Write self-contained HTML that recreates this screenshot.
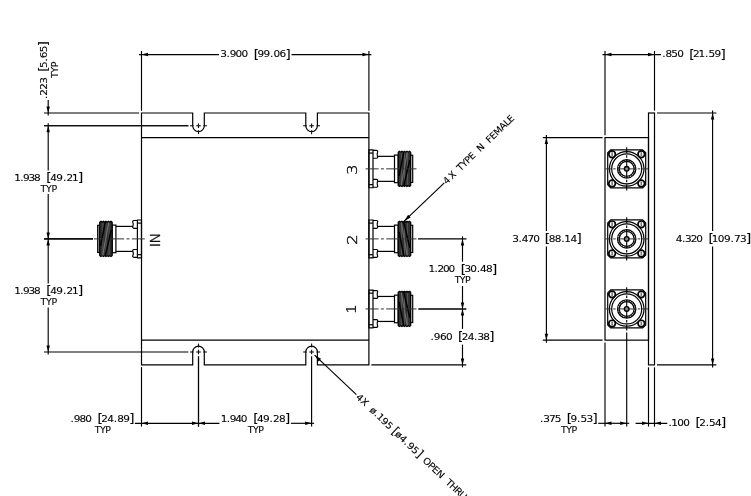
<!DOCTYPE html>
<html lang="en">
<head>
<meta charset="utf-8">
<title>Outline drawing</title>
<style>
html,body{margin:0;padding:0;background:#fff;}
body{width:751px;height:496px;overflow:hidden;}
svg{display:block;will-change:transform;}
.l{fill:none;stroke:#000;stroke-width:1.2;}
.lg{fill:#b0b0b0;stroke:#000;stroke-width:1.2;}
.d{fill:none;stroke:#000;stroke-width:1.15;}
.c{fill:none;stroke:#111;stroke-width:1.1;}
.cl{fill:none;stroke:#333;stroke-width:1;}
.a{fill:#000;stroke:none;}
.t{fill:#303030;stroke:#000;stroke-width:1.2;stroke-linejoin:round;}
.ts{stroke:#111;stroke-width:1.4;}
.th{fill:none;stroke:#707070;stroke-width:1.1;}
.th2{fill:none;stroke:#5a5a5a;stroke-width:0.9;}
.th3{fill:none;stroke:#000;stroke-width:1.5;}
.k2{fill:none;stroke:#555;stroke-width:1.6;stroke-dasharray:1.2 1.2;}
.hs{stroke:#777;stroke-width:1.6;}
.k{fill:none;stroke:#1a1a1a;stroke-width:2;}
.p{fill:#8a8a8a;stroke:#000;stroke-width:1.4;}
.h{fill:#fff;stroke:#000;stroke-width:1.7;}
.cv{fill:none;stroke:#000;stroke-width:1.1;}
text{font-family:"DejaVu Sans","Liberation Sans",sans-serif;font-size:9.4px;fill:#000;stroke:#000;stroke-width:0.1px;}
tspan.br{font-size:12.0px;}
text.big{font-family:"DejaVu Sans Light","DejaVu Sans",sans-serif;font-weight:200;font-size:14.6px;stroke-width:0.35px;}
text.big1{font-family:"Liberation Sans",sans-serif;font-size:15.2px;stroke:none;fill:#222;}
</style>
</head>
<body>
<svg width="751" height="496" viewBox="0 0 751 496">
<rect x="0" y="0" width="751" height="496" fill="#ffffff"/>
<!-- top view: body -->
<path class="l" d="M141.5,113.0 H192.7 V125.75 A5.8,5.8 0 0 0 204.3,125.75 V113.0 H305.8 V125.75 A5.8,5.8 0 0 0 317.4,125.75 V113.0 H368.9 V364.9 H317.4 V352.0 A5.8,5.8 0 0 0 305.8,352.0 V364.9 H204.3 V352.0 A5.8,5.8 0 0 0 192.7,352.0 V364.9 H141.5 Z"/>
<line class="l" x1="141.5" y1="137.6" x2="368.9" y2="137.6"/>
<line class="l" x1="141.5" y1="340.15" x2="368.9" y2="340.15"/>
<line class="c" x1="196.2" y1="125.75" x2="200.8" y2="125.75"/>
<line class="c" x1="198.5" y1="123.45" x2="198.5" y2="128.05"/>
<line class="c" x1="190.1" y1="125.75" x2="193.7" y2="125.75"/>
<line class="c" x1="203.3" y1="125.75" x2="206.9" y2="125.75"/>
<line class="c" x1="198.5" y1="130.25" x2="198.5" y2="134.15"/>
<line class="c" x1="196.2" y1="352" x2="200.8" y2="352"/>
<line class="c" x1="198.5" y1="349.7" x2="198.5" y2="354.3"/>
<line class="c" x1="190.1" y1="352" x2="193.7" y2="352"/>
<line class="c" x1="203.3" y1="352" x2="206.9" y2="352"/>
<line class="c" x1="198.5" y1="347.5" x2="198.5" y2="343.6"/>
<line class="c" x1="309.3" y1="125.75" x2="313.9" y2="125.75"/>
<line class="c" x1="311.6" y1="123.45" x2="311.6" y2="128.05"/>
<line class="c" x1="303.2" y1="125.75" x2="306.8" y2="125.75"/>
<line class="c" x1="316.4" y1="125.75" x2="320" y2="125.75"/>
<line class="c" x1="311.6" y1="130.25" x2="311.6" y2="134.15"/>
<line class="c" x1="309.3" y1="352" x2="313.9" y2="352"/>
<line class="c" x1="311.6" y1="349.7" x2="311.6" y2="354.3"/>
<line class="c" x1="303.2" y1="352" x2="306.8" y2="352"/>
<line class="c" x1="316.4" y1="352" x2="320" y2="352"/>
<line class="c" x1="311.6" y1="347.5" x2="311.6" y2="343.6"/>
<!-- top view: connectors -->
<g>
<path class="l" d="M368.9,149.95 H373 V187.75 H368.9 Z"/>
<line class="l" x1="368.9" y1="153.05" x2="373" y2="153.05"/>
<line class="l" x1="368.9" y1="184.65" x2="373" y2="184.65"/>
<path class="l" d="M373,150.45 H376.5 Q378.1,150.45 377.5,152.4 Q376.7,154.35 377.5,156.3 Q378.1,158.25 376.5,158.25 H373"/>
<path class="l" d="M373,187.25 H376.5 Q378.1,187.25 377.5,185.3 Q376.7,183.35 377.5,181.4 Q378.1,179.45 376.5,179.45 H373"/>
<line class="l" x1="377.7" y1="156.35" x2="394.5" y2="156.35"/>
<line class="l" x1="377.7" y1="181.35" x2="394.5" y2="181.35"/>
<rect class="l" x="394.5" y="155.05" width="3.7" height="27.6"/>
<rect class="l" x="410.5" y="155.25" width="2.2" height="27.2"/>
<polygon class="t" points="398.2,152.15 399.45,151.15 400.7,152.15 401.95,151.15 403.2,152.15 404.45,151.15 405.7,152.15 406.95,151.15 408.2,152.15 409.45,151.15 410.7,152.15 410.7,185.55 409.45,186.55 408.2,185.55 406.95,186.55 405.7,185.55 404.45,186.55 403.2,185.55 401.95,186.55 400.7,185.55 399.45,186.55 398.2,185.55"/>
<path class="th2" d="M401.4,152.85 V184.85 M404.5,152.85 V184.85 M407.6,152.85 V184.85"/>
<path class="th" d="M401.2,185.35 L407.2,152.35"/>
<path class="th3" d="M399.1,175.85 L403.8,152.05 M403.8,185.65 L409.8,159.85"/>
<line class="cl" x1="365.6" y1="168.85" x2="416.5" y2="168.85" stroke-dasharray="13 2.3 3 2.3"/>
</g>
<g>
<path class="l" d="M368.9,220 H373 V257.8 H368.9 Z"/>
<line class="l" x1="368.9" y1="223.1" x2="373" y2="223.1"/>
<line class="l" x1="368.9" y1="254.7" x2="373" y2="254.7"/>
<path class="l" d="M373,220.5 H376.5 Q378.1,220.5 377.5,222.45 Q376.7,224.4 377.5,226.35 Q378.1,228.3 376.5,228.3 H373"/>
<path class="l" d="M373,257.3 H376.5 Q378.1,257.3 377.5,255.35 Q376.7,253.4 377.5,251.45 Q378.1,249.5 376.5,249.5 H373"/>
<line class="l" x1="377.7" y1="226.4" x2="394.5" y2="226.4"/>
<line class="l" x1="377.7" y1="251.4" x2="394.5" y2="251.4"/>
<rect class="l" x="394.5" y="225.1" width="3.7" height="27.6"/>
<rect class="l" x="410.5" y="225.3" width="2.2" height="27.2"/>
<polygon class="t" points="398.2,222.2 399.45,221.2 400.7,222.2 401.95,221.2 403.2,222.2 404.45,221.2 405.7,222.2 406.95,221.2 408.2,222.2 409.45,221.2 410.7,222.2 410.7,255.6 409.45,256.6 408.2,255.6 406.95,256.6 405.7,255.6 404.45,256.6 403.2,255.6 401.95,256.6 400.7,255.6 399.45,256.6 398.2,255.6"/>
<path class="th2" d="M401.4,222.9 V254.9 M404.5,222.9 V254.9 M407.6,222.9 V254.9"/>
<path class="th" d="M401.2,222.4 L407.2,255.4"/>
<path class="th3" d="M399.1,231.9 L403.8,255.7 M403.8,222.1 L409.8,247.9"/>
<line class="cl" x1="365.6" y1="238.9" x2="416.5" y2="238.9" stroke-dasharray="13 2.3 3 2.3"/>
</g>
<g>
<path class="l" d="M368.9,290.05 H373 V327.85 H368.9 Z"/>
<line class="l" x1="368.9" y1="293.15" x2="373" y2="293.15"/>
<line class="l" x1="368.9" y1="324.75" x2="373" y2="324.75"/>
<path class="l" d="M373,290.55 H376.5 Q378.1,290.55 377.5,292.5 Q376.7,294.45 377.5,296.4 Q378.1,298.35 376.5,298.35 H373"/>
<path class="l" d="M373,327.35 H376.5 Q378.1,327.35 377.5,325.4 Q376.7,323.45 377.5,321.5 Q378.1,319.55 376.5,319.55 H373"/>
<line class="l" x1="377.7" y1="296.45" x2="394.5" y2="296.45"/>
<line class="l" x1="377.7" y1="321.45" x2="394.5" y2="321.45"/>
<rect class="l" x="394.5" y="295.15" width="3.7" height="27.6"/>
<rect class="l" x="410.5" y="295.35" width="2.2" height="27.2"/>
<polygon class="t" points="398.2,292.25 399.45,291.25 400.7,292.25 401.95,291.25 403.2,292.25 404.45,291.25 405.7,292.25 406.95,291.25 408.2,292.25 409.45,291.25 410.7,292.25 410.7,325.65 409.45,326.65 408.2,325.65 406.95,326.65 405.7,325.65 404.45,326.65 403.2,325.65 401.95,326.65 400.7,325.65 399.45,326.65 398.2,325.65"/>
<path class="th2" d="M401.4,292.95 V324.95 M404.5,292.95 V324.95 M407.6,292.95 V324.95"/>
<path class="th" d="M401.2,292.45 L407.2,325.45"/>
<path class="th3" d="M399.1,301.95 L403.8,325.75 M403.8,292.15 L409.8,317.95"/>
<line class="cl" x1="365.6" y1="308.95" x2="416.5" y2="308.95" stroke-dasharray="13 2.3 3 2.3"/>
</g>
<g>
<path class="l" d="M141.5,220 H137.4 V257.8 H141.5 Z"/>
<line class="l" x1="141.5" y1="223.1" x2="137.4" y2="223.1"/>
<line class="l" x1="141.5" y1="254.7" x2="137.4" y2="254.7"/>
<path class="l" d="M137.4,220.5 H133.9 Q132.3,220.5 132.9,222.45 Q133.7,224.4 132.9,226.35 Q132.3,228.3 133.9,228.3 H137.4"/>
<path class="l" d="M137.4,257.3 H133.9 Q132.3,257.3 132.9,255.35 Q133.7,253.4 132.9,251.45 Q132.3,249.5 133.9,249.5 H137.4"/>
<line class="l" x1="132.7" y1="226.4" x2="115.9" y2="226.4"/>
<line class="l" x1="132.7" y1="251.4" x2="115.9" y2="251.4"/>
<rect class="l" x="112.2" y="225.1" width="3.7" height="27.6"/>
<rect class="lg" x="97.7" y="225.3" width="2.2" height="27.2"/>
<polygon class="t" points="99.7,222.2 100.95,221.2 102.2,222.2 103.45,221.2 104.7,222.2 105.95,221.2 107.2,222.2 108.45,221.2 109.7,222.2 110.95,221.2 112.2,222.2 112.2,255.6 110.95,256.6 109.7,255.6 108.45,256.6 107.2,255.6 105.95,256.6 104.7,255.6 103.45,256.6 102.2,255.6 100.95,256.6 99.7,255.6"/>
<path class="th2" d="M102.9,222.9 V254.9 M106,222.9 V254.9 M109.1,222.9 V254.9"/>
<path class="th" d="M102.7,255.4 L108.7,222.4"/>
<path class="th3" d="M100.6,245.9 L105.3,222.1 M105.3,255.7 L111.3,229.9"/>
<line class="cl" x1="144.8" y1="238.9" x2="93.9" y2="238.9" stroke-dasharray="13 2.3 3 2.3"/>
</g>
<!-- port labels -->
<g transform="translate(356.5 173.8) rotate(-90)">
<text transform="translate(0 0) scale(1.15 1)" x="-1.09" y="0" class="big">3</text>
</g>
<g transform="translate(356.6 243.8) rotate(-90)">
<text transform="translate(0 0) scale(1.15 1)" x="-1.09" y="0" class="big">2</text>
</g>
<g transform="translate(356.2 311.8) rotate(-90)">
<text x="-1.61" y="0" class="big1">1</text>
</g>
<g transform="translate(159.9 245.9) rotate(-90)">
<text x="-1.46 2.31" y="0" class="big">IN</text>
</g>
<!-- dimensions: top view -->
<line class="d" x1="141.5" y1="50.9" x2="141.5" y2="110.8"/>
<line class="d" x1="368.9" y1="50.9" x2="368.9" y2="110.8"/>
<line class="d" x1="139" y1="54.55" x2="219" y2="54.55"/>
<line class="d" x1="291.5" y1="54.55" x2="371.4" y2="54.55"/>
<polygon class="a" points="141.5,54.55 148,52.85 148,56.25"/>
<polygon class="a" points="368.9,54.55 362.4,56.25 362.4,52.85"/>
<text transform="translate(221.1 57.2) scale(1.12 1)" x="-0.71 4.94 7.78 12.95 18.12 26.66 29.16 32.54 37.89 43.71 46.72 52.06 57.41" y="0">3.900 <tspan class="br" dy="0.3">[</tspan><tspan dy="-0.3">99.06</tspan><tspan class="br" dy="0.3">]</tspan></text>
<line class="d" x1="44" y1="113" x2="139.1" y2="113"/>
<line class="d" x1="44" y1="125.75" x2="188.4" y2="125.75"/>
<line class="d" x1="44" y1="125.75" x2="188.4" y2="125.75"/>
<line class="d" x1="44" y1="352" x2="188.4" y2="352"/>
<line class="d" x1="44" y1="238.9" x2="93" y2="238.9"/>
<line class="d" x1="44" y1="238.9" x2="93" y2="238.9"/>
<line class="d" x1="48.2" y1="100" x2="48.2" y2="115.5"/>
<polygon class="a" points="48.2,113 46.5,106.5 49.9,106.5"/>
<polygon class="a" points="48.2,125.75 49.9,132.25 46.5,132.25"/>
<line class="d" x1="48.2" y1="123.25" x2="48.2" y2="170.5"/>
<line class="d" x1="48.2" y1="194" x2="48.2" y2="283.5"/>
<polygon class="a" points="48.2,238.9 46.5,232.4 49.9,232.4"/>
<polygon class="a" points="48.2,238.9 49.9,245.4 46.5,245.4"/>
<line class="d" x1="48.2" y1="307.5" x2="48.2" y2="354.5"/>
<polygon class="a" points="48.2,352 46.5,345.5 49.9,345.5"/>
<text transform="translate(15.5 180.8) scale(1.12 1)" x="-1.03 4.29 6.81 11.66 16.52 25.05 27.55 31.03 36.47 42.38 45.48 50.45 55.89" y="0">1.938 <tspan class="br" dy="0.3">[</tspan><tspan dy="-0.3">49.21</tspan><tspan class="br" dy="0.3">]</tspan></text>
<text x="40.45 45.94 51.44" y="192">TYP</text>
<text transform="translate(15.5 293.8) scale(1.12 1)" x="-1.03 4.29 6.81 11.66 16.52 25.05 27.55 31.03 36.47 42.38 45.48 50.45 55.89" y="0">1.938 <tspan class="br" dy="0.3">[</tspan><tspan dy="-0.3">49.21</tspan><tspan class="br" dy="0.3">]</tspan></text>
<text x="40.45 45.94 51.44" y="304.9">TYP</text>
<g transform="translate(46.6 98) rotate(-90)">
<text transform="translate(0 0) scale(1.12 1)" x="-0.99 2.06 7.44 12.82 21.03 23.53 26.86 32.62 35.58 40.87 46.16" y="0">.223 <tspan class="br" dy="0.3">[</tspan><tspan dy="-0.3">5.65</tspan><tspan class="br" dy="0.3">]</tspan></text>
<text x="19.95 25.39 30.84" y="11">TYP</text>
</g>
<line class="d" x1="141.5" y1="367.1" x2="141.5" y2="426.6"/>
<line class="d" x1="198.5" y1="356.3" x2="198.5" y2="426.6"/>
<line class="d" x1="198.5" y1="356.3" x2="198.5" y2="426.6"/>
<line class="d" x1="311.6" y1="356.3" x2="311.6" y2="426.6"/>
<line class="d" x1="134.9" y1="423.3" x2="219.4" y2="423.3"/>
<polygon class="a" points="141.5,423.3 148,421.6 148,425"/>
<polygon class="a" points="198.5,423.3 192,425 192,421.6"/>
<line class="d" x1="290.9" y1="423.3" x2="314.1" y2="423.3"/>
<polygon class="a" points="198.5,423.3 205,421.6 205,425"/>
<polygon class="a" points="311.6,423.3 305.1,425 305.1,421.6"/>
<text transform="translate(71.7 421.6) scale(1.12 1)" x="-0.99 1.8 6.93 12.05 20.5 23 26.4 31.76 37.59 40.62 45.98 51.34" y="0">.980 <tspan class="br" dy="0.3">[</tspan><tspan dy="-0.3">24.89</tspan><tspan class="br" dy="0.3">]</tspan></text>
<text x="94.85 100.09 105.34" y="432.6">TYP</text>
<text transform="translate(222 421.6) scale(1.12 1)" x="-1.03 4.33 6.9 11.8 16.7 25.32 27.82 31.25 36.64 42.5 45.56 50.95 56.34" y="0">1.940 <tspan class="br" dy="0.3">[</tspan><tspan dy="-0.3">49.28</tspan><tspan class="br" dy="0.3">]</tspan></text>
<text x="247.75 252.99 258.24" y="432.6">TYP</text>
<line class="d" x1="418" y1="238.9" x2="466.5" y2="238.9"/>
<line class="d" x1="418.4" y1="308.95" x2="466.3" y2="308.95"/>
<line class="d" x1="418.4" y1="308.95" x2="466.3" y2="308.95"/>
<line class="d" x1="371.3" y1="364.9" x2="466.3" y2="364.9"/>
<line class="d" x1="462.5" y1="236.4" x2="462.5" y2="261.7"/>
<line class="d" x1="462.5" y1="286" x2="462.5" y2="328.9"/>
<line class="d" x1="462.5" y1="344.6" x2="462.5" y2="367.4"/>
<polygon class="a" points="462.5,238.9 464.2,245.4 460.8,245.4"/>
<polygon class="a" points="462.5,308.95 460.8,302.45 464.2,302.45"/>
<polygon class="a" points="462.5,308.95 464.2,315.45 460.8,315.45"/>
<polygon class="a" points="462.5,364.9 460.8,358.4 464.2,358.4"/>
<text transform="translate(429.6 272.4) scale(1.12 1)" x="-1.03 4.38 6.99 11.93 16.87 25.32 27.82 31.13 36.4 42.14 45.08 50.35 55.63" y="0">1.200 <tspan class="br" dy="0.3">[</tspan><tspan dy="-0.3">30.48</tspan><tspan class="br" dy="0.3">]</tspan></text>
<text x="454.65 459.84 465.04" y="283.3">TYP</text>
<text transform="translate(431.5 339.8) scale(1.12 1)" x="-0.99 2.13 7.58 13.03 21.12 23.62 26.96 32.26 38.04 41 46.31 51.61" y="0">.960 <tspan class="br" dy="0.3">[</tspan><tspan dy="-0.3">24.38</tspan><tspan class="br" dy="0.3">]</tspan></text>
<!-- leaders and notes -->
<line class="d" x1="404.2" y1="221.1" x2="444.3" y2="182.9"/>
<polygon class="a" points="404.2,221.1 408.17,214.83 410.65,217.44"/>
<g transform="translate(447.21 184.33) rotate(-44)">
<text x="-0.47 6.89 16.15 18.65 23.97 29.29 34.54 43.56 46.06 56.36 58.86 63.96 69.59 77.39 83.51 88.44" y="0">4X TYPE N FEMALE</text>
</g>
<line class="d" x1="314.6" y1="355.2" x2="356.4" y2="394.6"/>
<polygon class="a" points="314.6,355.2 321.07,358.83 318.6,361.45"/>
<g transform="translate(355.67 397.98) rotate(43.6)">
<text transform="translate(0 0) scale(1.06 1)" x="-0.47 5.59 14.91 17.41 23.4 26.35 32.1 37.85 43.93 46.43 50.37 56.03 62.4 65.96 71.86 77.76 83.96 86.46 93.34 98.48 103.89 113.87 116.37 121.33 127.62 133.37" y="0">4X ø.195 <tspan class="br" dy="0.3">[</tspan><tspan dy="-0.3">ø4.95</tspan><tspan class="br" dy="0.3">]</tspan><tspan dy="-0.3"> OPEN THRU</tspan></text>
</g>
<!-- side view -->
<rect class="l" x="605.0" y="137.6" width="43.5" height="202.55"/>
<rect class="l" x="648.5" y="113.0" width="6" height="251.9"/>
<g>
<path class="l" d="M610.7,149.85 H642.7 L645.7,152.85 V184.85 L642.7,187.85 H610.7 L607.7,184.85 V152.85 Z"/>
<circle class="l" cx="626.7" cy="168.85" r="17.3"/>
<circle class="l" cx="626.7" cy="168.85" r="15"/>
<circle class="k2" cx="626.7" cy="168.85" r="8.3"/>
<circle class="l" cx="626.7" cy="168.85" r="9.2"/>
<circle class="l" cx="626.7" cy="168.85" r="7.4"/>
<circle class="h" cx="612.1" cy="154.25" r="3.3"/>
<line class="hs" x1="612.1" y1="152.15" x2="612.1" y2="156.35"/>
<circle class="h" cx="612.1" cy="183.45" r="3.3"/>
<line class="hs" x1="612.1" y1="181.35" x2="612.1" y2="185.55"/>
<circle class="h" cx="641.3" cy="154.25" r="3.3"/>
<line class="hs" x1="641.3" y1="152.15" x2="641.3" y2="156.35"/>
<circle class="h" cx="641.3" cy="183.45" r="3.3"/>
<line class="hs" x1="641.3" y1="181.35" x2="641.3" y2="185.55"/>
<line class="cl" x1="605.1" y1="168.85" x2="648.3" y2="168.85" stroke-dasharray="6.1 2 2.5 2 18 2 2.5 2 6.1"/>
<line class="cv" x1="626.7" y1="147.25" x2="626.7" y2="190.45" stroke-dasharray="6.1 2 2.5 2 18 2 2.5 2 6.1"/>
<circle class="p" cx="626.7" cy="168.85" r="2.3"/>
</g>
<g>
<path class="l" d="M610.7,219.9 H642.7 L645.7,222.9 V254.9 L642.7,257.9 H610.7 L607.7,254.9 V222.9 Z"/>
<circle class="l" cx="626.7" cy="238.9" r="17.3"/>
<circle class="l" cx="626.7" cy="238.9" r="15"/>
<circle class="k2" cx="626.7" cy="238.9" r="8.3"/>
<circle class="l" cx="626.7" cy="238.9" r="9.2"/>
<circle class="l" cx="626.7" cy="238.9" r="7.4"/>
<circle class="h" cx="612.1" cy="224.3" r="3.3"/>
<line class="hs" x1="612.1" y1="222.2" x2="612.1" y2="226.4"/>
<circle class="h" cx="612.1" cy="253.5" r="3.3"/>
<line class="hs" x1="612.1" y1="251.4" x2="612.1" y2="255.6"/>
<circle class="h" cx="641.3" cy="224.3" r="3.3"/>
<line class="hs" x1="641.3" y1="222.2" x2="641.3" y2="226.4"/>
<circle class="h" cx="641.3" cy="253.5" r="3.3"/>
<line class="hs" x1="641.3" y1="251.4" x2="641.3" y2="255.6"/>
<line class="cl" x1="605.1" y1="238.9" x2="648.3" y2="238.9" stroke-dasharray="6.1 2 2.5 2 18 2 2.5 2 6.1"/>
<line class="cv" x1="626.7" y1="217.3" x2="626.7" y2="260.5" stroke-dasharray="6.1 2 2.5 2 18 2 2.5 2 6.1"/>
<circle class="p" cx="626.7" cy="238.9" r="2.3"/>
</g>
<g>
<path class="l" d="M610.7,289.95 H642.7 L645.7,292.95 V324.95 L642.7,327.95 H610.7 L607.7,324.95 V292.95 Z"/>
<circle class="l" cx="626.7" cy="308.95" r="17.3"/>
<circle class="l" cx="626.7" cy="308.95" r="15"/>
<circle class="k2" cx="626.7" cy="308.95" r="8.3"/>
<circle class="l" cx="626.7" cy="308.95" r="9.2"/>
<circle class="l" cx="626.7" cy="308.95" r="7.4"/>
<circle class="h" cx="612.1" cy="294.35" r="3.3"/>
<line class="hs" x1="612.1" y1="292.25" x2="612.1" y2="296.45"/>
<circle class="h" cx="612.1" cy="323.55" r="3.3"/>
<line class="hs" x1="612.1" y1="321.45" x2="612.1" y2="325.65"/>
<circle class="h" cx="641.3" cy="294.35" r="3.3"/>
<line class="hs" x1="641.3" y1="292.25" x2="641.3" y2="296.45"/>
<circle class="h" cx="641.3" cy="323.55" r="3.3"/>
<line class="hs" x1="641.3" y1="321.45" x2="641.3" y2="325.65"/>
<line class="cl" x1="605.1" y1="308.95" x2="648.3" y2="308.95" stroke-dasharray="6.1 2 2.5 2 18 2 2.5 2 6.1"/>
<line class="cv" x1="626.7" y1="287.35" x2="626.7" y2="330.55" stroke-dasharray="6.1 2 2.5 2 18 2 2.5 2 6.1"/>
<circle class="p" cx="626.7" cy="308.95" r="2.3"/>
</g>
<!-- dimensions: side view -->
<line class="d" x1="605" y1="50.9" x2="605" y2="135.2"/>
<line class="d" x1="654.5" y1="50.9" x2="654.5" y2="110.6"/>
<line class="d" x1="602.5" y1="54.55" x2="661" y2="54.55"/>
<polygon class="a" points="605,54.55 611.5,52.85 611.5,56.25"/>
<polygon class="a" points="654.5,54.55 648,56.25 648,52.85"/>
<text transform="translate(663.25 57.3) scale(1.12 1)" x="-0.99 1.94 7.2 12.45 20.63 23.13 26.55 31.46 37.31 40.36 45.74 51.12" y="0">.850 <tspan class="br" dy="0.3">[</tspan><tspan dy="-0.3">21.59</tspan><tspan class="br" dy="0.3">]</tspan></text>
<line class="d" x1="542.8" y1="137.6" x2="602.6" y2="137.6"/>
<line class="d" x1="542.8" y1="340.15" x2="602.6" y2="340.15"/>
<line class="d" x1="546.4" y1="135.1" x2="546.4" y2="231"/>
<line class="d" x1="546.4" y1="246.6" x2="546.4" y2="342.65"/>
<polygon class="a" points="546.4,137.6 548.1,144.1 544.7,144.1"/>
<polygon class="a" points="546.4,340.15 544.7,333.65 548.1,333.65"/>
<text transform="translate(513.05 241.6) scale(1.12 1)" x="-0.7 4.93 7.75 12.92 18.08 25.81 28.31 31.79 37.23 43.14 45.77 51.21 56.65" y="0">3.470 <tspan class="br" dy="0.3">[</tspan><tspan dy="-0.3">88.14</tspan><tspan class="br" dy="0.3">]</tspan></text>
<line class="d" x1="657" y1="113" x2="716.4" y2="113"/>
<line class="d" x1="657" y1="364.9" x2="716.4" y2="364.9"/>
<line class="d" x1="712.6" y1="110.5" x2="712.6" y2="231"/>
<line class="d" x1="712.6" y1="246.6" x2="712.6" y2="367.4"/>
<polygon class="a" points="712.6,113 714.3,119.5 710.9,119.5"/>
<polygon class="a" points="712.6,364.9 710.9,358.4 714.3,358.4"/>
<text transform="translate(676.3 241.6) scale(1.12 1)" x="-0.47 5.05 7.76 12.81 17.86 26.21 28.71 31.69 37.11 42.53 48.41 51.49 56.91 62.32" y="0">4.320 <tspan class="br" dy="0.3">[</tspan><tspan dy="-0.3">109.73</tspan><tspan class="br" dy="0.3">]</tspan></text>
<line class="d" x1="605" y1="342.55" x2="605" y2="426.6"/>
<line class="d" x1="626.7" y1="332.45" x2="626.7" y2="426.6"/>
<line class="d" x1="648.5" y1="367.3" x2="648.5" y2="426.6"/>
<line class="d" x1="654.5" y1="367.3" x2="654.5" y2="426.6"/>
<line class="d" x1="598.2" y1="423.3" x2="629.2" y2="423.3"/>
<polygon class="a" points="605,423.3 611.5,421.6 611.5,425"/>
<polygon class="a" points="626.7,423.3 620.2,425 620.2,421.6"/>
<line class="d" x1="635.6" y1="423.3" x2="667.3" y2="423.3"/>
<polygon class="a" points="648.5,423.3 642,425 642,421.6"/>
<polygon class="a" points="654.5,423.3 661,421.6 661,425"/>
<text transform="translate(541 421.6) scale(1.12 1)" x="-0.99 1.9 7.11 12.33 20.5 23 26.41 32.25 35.28 40.66 46.03" y="0">.375 <tspan class="br" dy="0.3">[</tspan><tspan dy="-0.3">9.53</tspan><tspan class="br" dy="0.3">]</tspan></text>
<text x="561.05 566.24 571.44" y="432.6">TYP</text>
<text transform="translate(669.7 425.7) scale(1.12 1)" x="-0.99 1.5 6.8 12.1 20.5 23 26.38 32.19 35.2 40.55 45.89" y="0">.100 <tspan class="br" dy="0.3">[</tspan><tspan dy="-0.3">2.54</tspan><tspan class="br" dy="0.3">]</tspan></text>
</svg>
</body>
</html>
